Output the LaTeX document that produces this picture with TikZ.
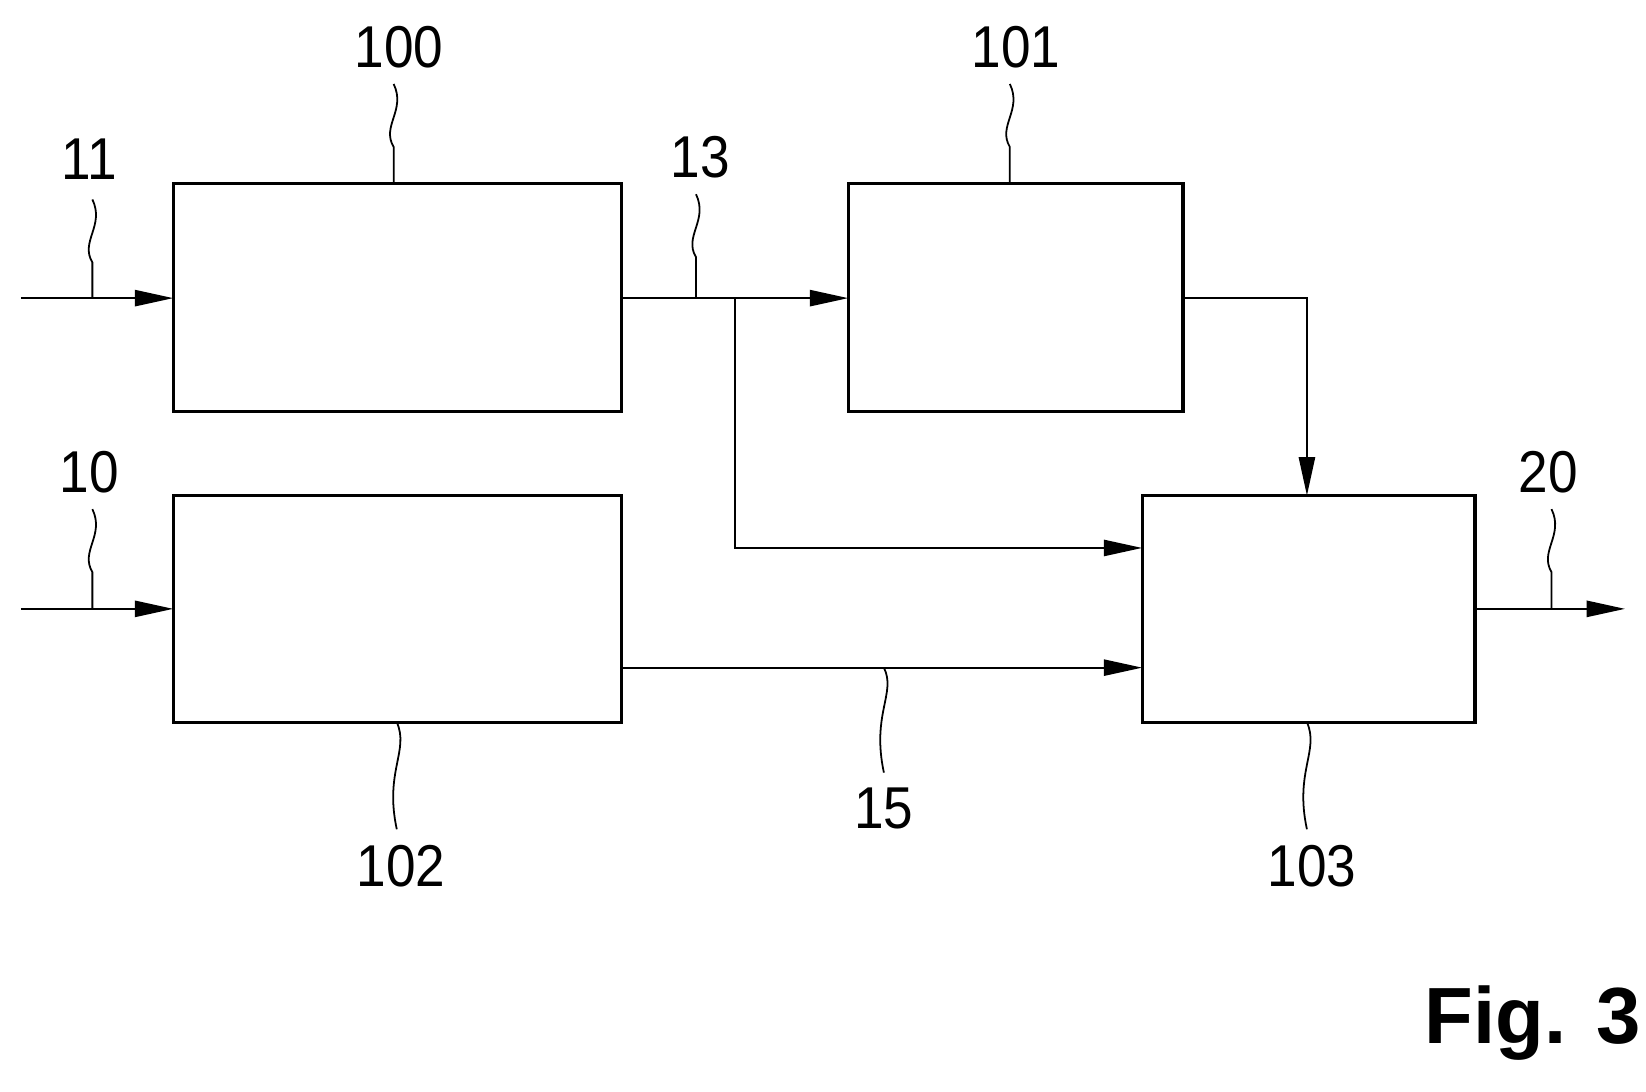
\documentclass[tikz,border=0pt]{standalone}
\usepackage{fontspec}
\setmainfont{Liberation Sans}
\usetikzlibrary{arrows.meta}
\tikzset{ld/.style={line width=1.2pt}}
\newcommand\mysq[3]{\draw[ld] (#1,#2) .. controls (#1+12,#2+25) and (#1-12,#2+40) .. (#1,#2+60) -- (#1,#3);}
\begin{document}
\begin{tikzpicture}[x=0.025cm,y=-0.025cm,
  ar/.style={line width=1.3pt,-{Triangle[length=26pt,width=11pt]}},
  lab/.style={font=\fontsize{40}{40}\selectfont,inner sep=0,xscale=0.9}]
\useasboundingbox (0,0) rectangle (1568,1040);
\draw[line width=2.2pt] (165,175) rectangle (592,392);
\draw[line width=2.2pt] (808,175) rectangle (1127,392);
\draw[line width=2.2pt] (165,472) rectangle (592,688);
\draw[line width=2.2pt] (1088,472) rectangle (1405,688);
\coordinate (i11) at (20,284); \coordinate (i10) at (20,580);
\coordinate (o20) at (1548,580); \coordinate (br) at (700,284);
\draw[ar] (i11) -- (165,284);
\draw[ar] (i10) -- (165,580);
\draw[ar] (592,284) -- (808,284);
\draw[ar] (br) -- (700,522) -- (1088,522);
\draw[ar] (1127,284) -- (1245,284) -- (1245,472);
\draw[ar] (592,636) -- (1088,636);
\draw[ar] (1405,580) -- (o20);
\node[lab] (l100) at (380,45) {100};
\node[lab] (l101) at (968,45) {101};
\node[lab] (l11) at (85,152) {11};
\node[lab] (l13) at (667,150) {13};
\node[lab] (l10) at (85,450) {10};
\node[lab] (l20) at (1475,450) {20};
\node[lab] (l15) at (842,770) {15};
\node[lab] (l102) at (382,825) {102};
\node[lab] (l103) at (1250,825) {103};
\node[font=\fontsize{54}{54}\selectfont\bfseries,inner sep=0] (fig) at (1460,975) {Fig. 3};
\mysq{375}{80}{175}
\mysq{962}{80}{175}
\mysq{88}{190}{284}
\mysq{663}{185}{284}
\mysq{88}{485}{580}
\mysq{1478}{485}{580}
\draw[ld] (842,636) .. controls (854,660) and (830,680) .. (842,736);
\draw[ld] (378,688) .. controls (390,715) and (366,735) .. (378,790);
\draw[ld] (1245,688) .. controls (1257,715) and (1233,735) .. (1245,790);
\end{tikzpicture}
\end{document}
